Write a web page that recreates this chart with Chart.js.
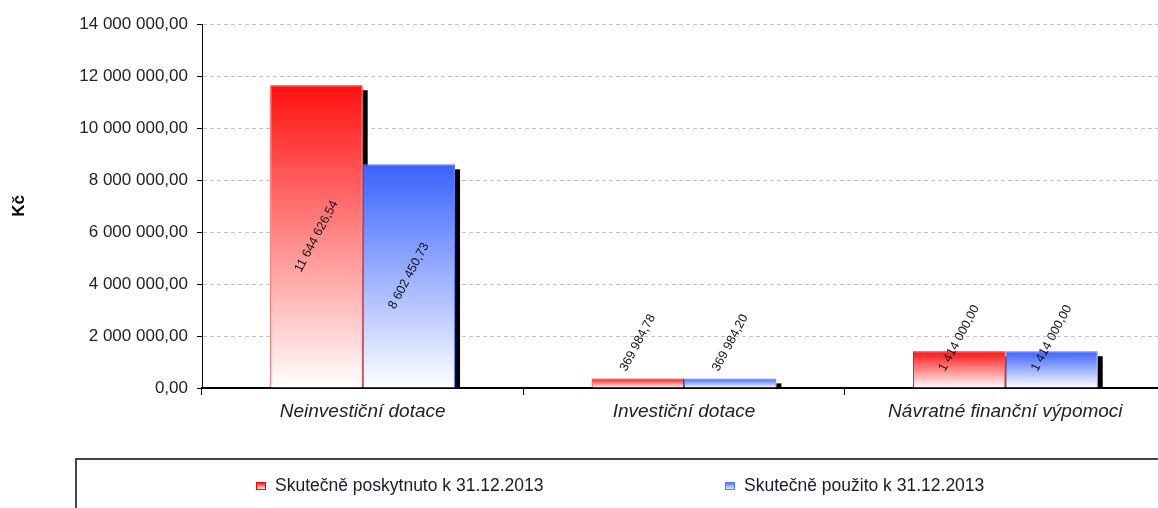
<!DOCTYPE html>
<html>
<head>
<meta charset="utf-8">
<script src="https://cdn.jsdelivr.net/npm/chart.js@4/dist/chart.umd.min.js"></script>
<style>
    html, body { margin: 0; padding: 0; background: #fff; }
    #wrap { width: 1158px; height: 508px; }
</style>
</head>
<body>
<div id="wrap"><canvas id="finChart" width="1158" height="508"></canvas></div>
<script>
    // Chart data
    const categories = ['Neinvestiční dotace', 'Investiční dotace', 'Návratné finanční výpomoci'];
    const poskytnuto = [11644626.54, 369984.78, 1414000.00];
    const pouzito = [8602450.73, 369984.20, 1414000.00];
    const seriesLabels = ['Skutečně poskytnuto k 31.12.2013', 'Skutečně použito k 31.12.2013'];
    const yMax = 14000000;
    const yStep = 2000000;

    const FONT = '"Liberation Sans", Arial, sans-serif';

    // Czech number format: "14 000 000,00"
    function formatCz(v) {
        const parts = Math.abs(v).toFixed(2).split('.');
        const intPart = parts[0].replace(/\B(?=(\d{3})+(?!\d))/g, ' ');
        return (v < 0 ? '-' : '') + intPart + ',' + parts[1];
    }

    // vertical gradient from bar top to the axis
    function barGradient(topColor) {
        return function(context) {
            const chart = context.chart;
            if (!chart.chartArea || context.raw === undefined) return topColor;
            const y = chart.scales.y;
            const g = chart.ctx.createLinearGradient(0, y.getPixelForValue(context.raw), 0, y.getPixelForValue(0));
            g.addColorStop(0, topColor);
            g.addColorStop(1, '#ffffff');
            return g;
        };
    }

    // x axis runs a little past the right edge of the canvas
    const stretchPlugin = {
        id: 'stretchX',
        afterLayout(chart) {
            const x = chart.scales.x;
            x.right += 8;
            x.width += 8;
            x.configure();
        }
    };

    // black drop shadow on the right of each bar
    const shadowPlugin = {
        id: 'barShadow',
        beforeDatasetsDraw(chart) {
            const ctx = chart.ctx;
            ctx.save();
            ctx.fillStyle = '#000';
            chart.data.datasets.forEach((ds, i) => {
                chart.getDatasetMeta(i).data.forEach(bar => {
                    const h = bar.base - bar.y - 5;
                    if (h > 0) ctx.fillRect(bar.x + bar.width / 2, bar.y + 5, 5, h);
                });
            });
            ctx.restore();
        }
    };

    // rotated value labels
    const valueLabelPlugin = {
        id: 'valueLabels',
        afterDatasetsDraw(chart) {
            const ctx = chart.ctx;
            const angle = -62 * Math.PI / 180;
            ctx.save();
            ctx.font = '12.5px ' + FONT;
            ctx.fillStyle = '#111';
            ctx.textAlign = 'center';
            ctx.textBaseline = 'middle';
            chart.data.datasets.forEach((ds, i) => {
                chart.getDatasetMeta(i).data.forEach((bar, j) => {
                    const text = formatCz(ds.data[j]);
                    const len = ctx.measureText(text).width;
                    const extent = len * Math.sin(-angle);
                    const barH = bar.base - bar.y;
                    let cy;
                    if (barH > extent + 20) {
                        cy = (bar.y + bar.base) / 2;
                    } else {
                        cy = bar.base - 17 - extent / 2;
                    }
                    ctx.save();
                    ctx.translate(bar.x, cy);
                    ctx.rotate(angle);
                    ctx.fillText(text, 0, 0);
                    ctx.restore();
                });
            });
            ctx.restore();
        }
    };

    // boxed legend at the bottom
    const legendBoxPlugin = {
        id: 'legendBox',
        afterDraw(chart) {
            const ctx = chart.ctx;
            ctx.save();
            ctx.strokeStyle = '#444';
            ctx.lineWidth = 2;
            ctx.strokeRect(76, 459, chart.width, 80);
            ctx.font = '17.5px ' + FONT;
            ctx.textBaseline = 'middle';
            const itemX = [256, 725];
            chart.data.datasets.forEach((ds, i) => {
                const x = itemX[i];
                const g = ctx.createLinearGradient(0, 482, 0, 490);
                g.addColorStop(0, ds.topColor);
                g.addColorStop(1, '#ffffff');
                ctx.fillStyle = g;
                ctx.fillRect(x, 482, 10, 7);
                ctx.strokeStyle = ds.borderColor;
                ctx.lineWidth = 1;
                ctx.strokeRect(x + 0.5, 482.5, 9, 7);
                ctx.fillStyle = '#1a1a2a';
                ctx.fillText(ds.label, x + 19, 486);
            });
            ctx.restore();
        }
    };

    const ctx = document.getElementById('finChart').getContext('2d');
    new Chart(ctx, {
        type: 'bar',
        data: {
            labels: categories,
            datasets: [{
                label: seriesLabels[0],
                data: poskytnuto,
                topColor: '#ff1010',
                backgroundColor: barGradient('#ff1010'),
                borderColor: '#ff0000',
                borderWidth: 1,
                borderSkipped: 'bottom',
                categoryPercentage: 0.575,
                barPercentage: 1.0
            }, {
                label: seriesLabels[1],
                data: pouzito,
                topColor: '#3a62ff',
                backgroundColor: barGradient('#3a62ff'),
                borderColor: '#4f77ff',
                borderWidth: 1,
                borderSkipped: 'bottom',
                categoryPercentage: 0.575,
                barPercentage: 1.0
            }]
        },
        options: {
            responsive: false,
            animation: false,
            layout: {
                padding: { top: 24, right: 0, bottom: 60, left: 0 }
            },
            plugins: {
                legend: { display: false },
                tooltip: { enabled: false }
            },
            scales: {
                y: {
                    min: 0,
                    max: yMax,
                    afterFit: function(scale) { scale.width = 202; },
                    border: { display: true, color: '#000', width: 1, dash: [4, 3] },
                    grid: {
                        color: function(c) { return c.tick.value === 0 ? 'rgba(0,0,0,0)' : '#c4c4c4'; },
                        tickColor: '#000',
                        tickLength: 5,
                        tickBorderDash: [],
                        lineWidth: 1
                    },
                    ticks: {
                        stepSize: yStep,
                        padding: 9,
                        color: '#222',
                        font: { family: FONT, size: 17 },
                        callback: function(v) { return formatCz(v); }
                    },
                    title: {
                        display: true,
                        text: 'Kč',
                        color: '#000',
                        font: { family: FONT, size: 17, weight: 'bold' },
                        padding: { top: 9, bottom: 0 }
                    }
                },
                x: {
                    afterFit: function(scale) { scale.height = 60; },
                    border: { display: true, color: '#000', width: 2 },
                    grid: {
                        drawOnChartArea: false,
                        drawTicks: true,
                        tickLength: 7,
                        tickColor: '#000',
                        offset: true
                    },
                    ticks: {
                        padding: 5,
                        color: '#222',
                        font: { family: FONT, size: 19, style: 'italic' }
                    }
                }
            }
        },
        plugins: [stretchPlugin, shadowPlugin, valueLabelPlugin, legendBoxPlugin]
    });
</script>
</body>
</html>
